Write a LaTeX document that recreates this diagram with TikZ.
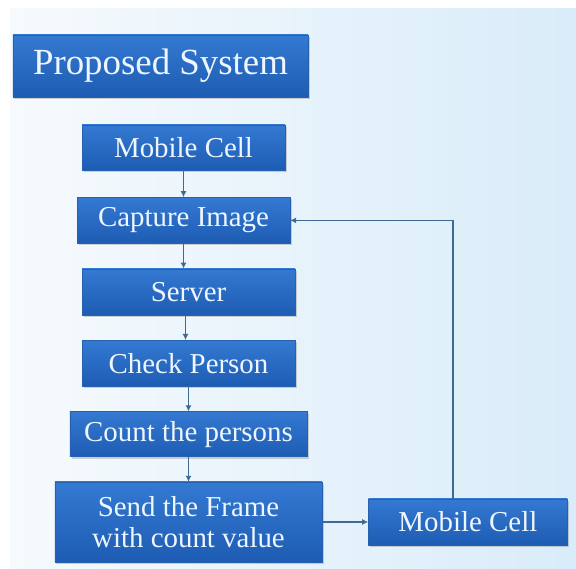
\documentclass[tikz,border=0pt]{standalone}
\usepackage{fontspec}
\setmainfont{Liberation Serif}
\usepackage{xcolor}
\usetikzlibrary{positioning,shadows,arrows.meta}
\definecolor{bgleft}{HTML}{F6FAFD}
\definecolor{bgright}{HTML}{D9ECF9}
\definecolor{boxtop}{HTML}{3479D2}
\definecolor{boxbottom}{HTML}{1E5CB3}
\definecolor{boxedge}{HTML}{2660B0}
\definecolor{boxtext}{HTML}{EEF6FF}
\definecolor{pfeilblue}{HTML}{3E6A93}
\tikzstyle{block} = [draw=boxedge, rectangle,
	top color=boxtop, bottom color=boxbottom,
	text=boxtext,
	font=\fontsize{29}{31}\selectfont,
	minimum height=46bp,
	inner sep=0pt,
	align=center,
	drop shadow={shadow xshift=1.5bp, shadow yshift=-2bp, opacity=0.35}
	]
\tikzstyle{pfeil} = [draw=pfeilblue,
	-{Latex[length=6bp,width=6bp]}, line width=1.3bp
	]
\begin{document}
\begin{tikzpicture}[x=1bp, y=1bp]
    \useasboundingbox (0,0) rectangle (576,569);
    \fill[white] (0,0) rectangle (576,569);
    \shade[left color=bgleft, right color=bgright] (10,0) rectangle (576,560);

    \node [block, minimum width=295bp, minimum height=62bp,
    	font=\fontsize{37}{40}\selectfont] (title) at (160.5,503) {Proposed System};

    \node [block, minimum width=203bp, minimum height=45bp] (mobile) at (183.5,421.5) {Mobile Cell};
    \node [block, minimum width=213bp, below=27bp of mobile] (capture) {Capture Image};
    \node [block, minimum width=213bp, below=25bp of capture, xshift=5bp] (server) {Server};
    \node [block, minimum width=213bp, below=25bp of server] (check) {Check Person};
    \node [block, minimum width=237bp, minimum height=45bp, below=25bp of check] (count) {Count the persons};
    \node [block, minimum width=267bp, minimum height=80bp, below=25bp of count] (send) {Send the Frame\\with count value};
    \node [block, minimum width=199bp, right=46bp of send] (mobileback) {Mobile Cell};

    \draw [pfeil] (mobile) -- (capture);
    \draw [pfeil] (capture.south) -- (capture.south |- server.north);
    \draw [pfeil] ([xshift=-3bp]server.south) -- ([xshift=-3bp]server.south |- check.north);
    \draw [pfeil] (check) -- (count);
    \draw [pfeil] (count) -- (send);
    \draw [pfeil] (send) -- (mobileback);
    \draw [pfeil] ([xshift=-15bp]mobileback.north) |- (capture.east);
\end{tikzpicture}
\end{document}
